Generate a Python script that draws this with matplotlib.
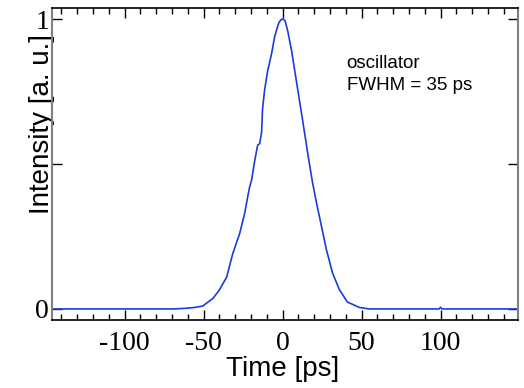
import matplotlib
matplotlib.use("Agg")
import matplotlib.pyplot as plt
from matplotlib.ticker import MultipleLocator

# pulse profile (time in ps, normalised intensity)
time_ps = [-146, -70, -62, -56, -50.6, -44, -40, -35.4, -31.6, -27.2, -24, -22,
           -20.9, -19.6, -17.7, -15.8, -14.5, -13.3, -12.7, -11.4, -9.5, -7,
           -5, -2.5, -1, 0, 1.5, 3.2, 5.7, 8.9, 12.7, 15.8, 19, 21.5, 24.7,
           27.8, 31.6, 36, 41, 48.7, 55, 99, 100, 101, 149]
intensity = [0, 0, 0.002, 0.005, 0.01, 0.037, 0.066, 0.11, 0.19, 0.26, 0.33, 0.39,
             0.42, 0.445, 0.51, 0.565, 0.57, 0.61, 0.69, 0.755, 0.82, 0.88,
             0.94, 0.986, 0.998, 1.0, 0.995, 0.96, 0.89, 0.78, 0.65, 0.54, 0.434, 0.365, 0.283,
             0.203, 0.124, 0.066, 0.024, 0.005, 0.0, 0.0, 0.006, 0.0, 0.0]

x_ticks = [-100, -50, 0, 50, 100]
y_ticks = [0, 0.5, 1]
y_tick_labels = ['0', '', '1']

fig = plt.figure(figsize=(5.24, 3.88), dpi=100)
ax = fig.add_axes([0.0992, 0.1753, 0.8893, 0.8041])

ax.plot(time_ps, intensity, color='#1a3cdc', linewidth=1.2)

ax.set_xlim(-146, 149)
ax.set_ylim(-0.038, 1.038)

ax.set_xticks(x_ticks)
ax.set_xticklabels([str(t) for t in x_ticks], fontfamily='Liberation Serif', fontsize=20)
ax.xaxis.set_minor_locator(MultipleLocator(10))
ax.set_yticks(y_ticks)
ax.set_yticklabels(y_tick_labels, fontfamily='Liberation Serif', fontsize=20)

ax.tick_params(axis='x', which='major', direction='in', length=7, width=1,
               top=True, bottom=True, pad=8)
ax.tick_params(axis='x', which='minor', direction='in', length=4, width=1,
               top=True, bottom=True)
ax.tick_params(axis='y', which='major', direction='in', length=7, width=1,
               left=True, right=True, pad=2)

for side in ['top', 'bottom']:
    ax.spines[side].set_color('black')
    ax.spines[side].set_linewidth(1.2)
for side in ['left', 'right']:
    ax.spines[side].set_color('#808080')
    ax.spines[side].set_linewidth(1.5)

ax.set_xlabel('Time [ps]', fontfamily='Liberation Sans', fontsize=20)
ax.xaxis.set_label_coords(0.494, -0.116)
ax.set_ylabel('Intensity [a. u.]', fontfamily='Liberation Sans', fontsize=20)
ax.yaxis.set_label_coords(0.006, 0.628)

ax.text(40.5, 0.831, 'oscillator', fontfamily='Liberation Sans', fontsize=13.5, va='baseline')
ax.text(40.5, 0.755, 'FWHM = 35 ps', fontfamily='Liberation Sans', fontsize=13.5, va='baseline')

fig.savefig('out.png', dpi=100)
